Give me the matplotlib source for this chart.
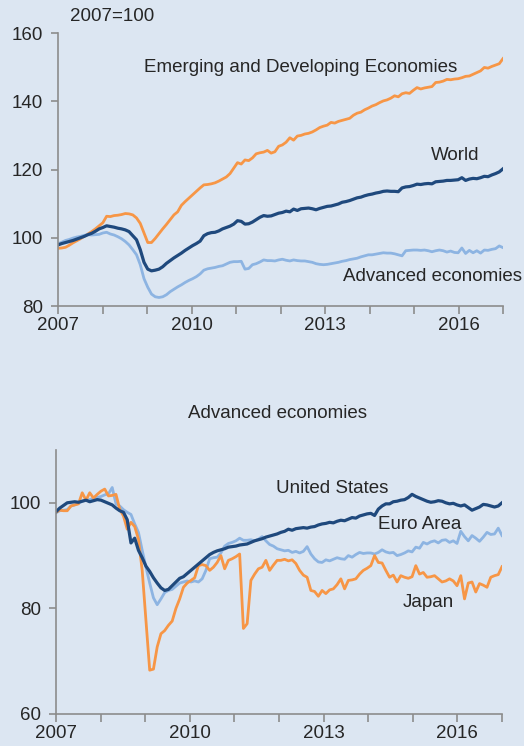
import numpy as np
import matplotlib
matplotlib.use("Agg")
import matplotlib.pyplot as plt

plt.rcParams['font.family'] = ['Liberation Sans', 'DejaVu Sans']

# ---------------- data (monthly, Jan 2007 - Dec 2016, 2007=100) ----------------
world = [
    97.9, 98.3, 98.6, 98.9, 99.2, 99.6, 100.0, 100.4, 100.9, 101.3, 101.9, 102.6,
    103.0, 103.5, 103.3, 103.1, 102.8, 102.6, 102.3, 101.8, 100.6, 99.4, 96.5, 92.8,
    90.8, 90.3, 90.5, 90.8, 91.5, 92.5, 93.3, 94.1, 94.8, 95.5, 96.3, 97.0,
    97.7, 98.3, 99.0, 100.6, 101.2, 101.5, 101.6, 102.0, 102.6, 103.0, 103.4, 104.0,
    105.0, 104.8, 104.0, 104.1, 104.6, 105.3, 106.0, 106.5, 106.3, 106.4, 106.8, 107.2,
    107.4, 107.8, 107.6, 108.4, 108.0, 108.5, 108.6, 108.7, 108.5, 108.2, 108.6, 108.9,
    109.2, 109.3, 109.6, 109.9, 110.4, 110.6, 110.9, 111.3, 111.7, 111.9, 112.3, 112.6,
    112.8, 113.1, 113.3, 113.6, 113.7, 113.6, 113.6, 113.5, 114.6, 114.9, 115.0, 115.3,
    115.7, 115.6, 115.8, 115.9, 115.8, 116.4, 116.5, 116.6, 116.8, 116.8, 116.9, 117.0,
    117.6, 116.8, 117.2, 117.4, 117.3, 117.6, 118.0, 117.9, 118.4, 118.8, 119.3, 120.2,
]
emerging = [
    96.9, 97.0, 97.2, 97.8, 98.5, 99.1, 99.7, 100.4, 101.1, 101.8, 102.6, 103.5,
    104.4, 106.3, 106.2, 106.5, 106.6, 106.8, 107.1, 107.0, 106.7, 105.8, 104.2, 101.4,
    98.6, 98.6, 99.8, 101.2, 102.6, 103.9, 105.3, 106.7, 107.6, 109.5, 110.6, 111.6,
    112.6, 113.6, 114.6, 115.5, 115.6, 115.8, 116.1, 116.6, 117.2, 117.8, 118.8, 120.4,
    122.0, 121.6, 122.8, 122.6, 123.4, 124.6, 124.9, 125.1, 125.6, 124.8, 125.2, 126.8,
    127.2, 128.0, 129.3, 128.6, 129.8, 130.0, 130.4, 130.6, 131.0, 131.6, 132.3, 132.7,
    133.0, 133.8, 133.6, 134.1, 134.4, 134.7, 135.0, 135.9, 136.5, 136.8, 137.5, 138.0,
    138.6, 139.0, 139.6, 140.1, 140.4, 140.9, 141.6, 141.3, 142.2, 142.5, 142.3, 143.2,
    144.0, 143.6, 143.9, 144.1, 144.3, 145.5, 145.6, 145.9, 146.4, 146.3, 146.5, 146.6,
    146.9, 147.3, 147.4, 147.9, 148.4, 148.9, 149.9, 149.7, 150.2, 150.6, 151.0, 152.5,
]
advanced = [
    98.2, 98.7, 99.2, 99.5, 99.9, 100.2, 100.4, 100.7, 100.9, 100.8, 100.9, 101.0,
    101.4, 101.6, 101.1, 100.8, 100.3, 99.7, 98.9, 97.9, 96.5, 95.0, 92.1, 88.0,
    85.5, 83.5, 82.7, 82.5, 82.7, 83.3, 84.2, 84.9, 85.6, 86.2, 86.9, 87.5,
    88.0, 88.6, 89.4, 90.5, 90.9, 91.1, 91.3, 91.6, 91.8, 92.3, 92.8, 93.0,
    93.0, 93.1, 90.8, 91.0, 92.1, 92.4, 92.9, 93.5, 93.3, 93.3, 93.2, 93.5,
    93.7, 93.4, 93.2, 93.5, 93.3, 93.2, 93.2, 93.0, 92.8, 92.4, 92.2, 92.1,
    92.2, 92.4, 92.6, 92.8, 93.1, 93.3, 93.6, 93.8, 94.0, 94.4, 94.7, 95.0,
    95.0, 95.2, 95.4, 95.6, 95.5, 95.5, 95.3, 95.0, 94.7, 96.2, 96.3, 96.4,
    96.4, 96.3, 96.4, 96.2, 95.9, 96.2, 96.4, 96.2, 95.8, 96.1, 95.7, 95.6,
    97.0, 95.4, 96.3, 95.6, 96.2, 95.5, 96.4, 96.3, 96.6, 96.8, 97.6, 97.1,
]
united_states = [
    98.3, 99.0, 99.5, 100.0, 100.1, 100.2, 100.1, 100.3, 100.5, 100.2, 100.4, 100.6,
    100.5, 100.2, 99.9, 99.6, 99.0, 98.5, 98.2, 96.8, 92.4, 93.3, 91.0, 89.6,
    88.0, 87.0, 85.8, 84.8, 83.9, 83.4, 83.6, 84.3, 85.0, 85.7, 86.0, 86.6,
    87.2, 87.8, 88.4, 89.0, 89.6, 90.2, 90.6, 90.9, 91.1, 91.3, 91.6, 91.7,
    91.8, 92.0, 92.1, 92.2, 92.5, 92.8, 93.0, 93.2, 93.5, 93.7, 93.9, 94.1,
    94.4, 94.6, 95.0, 94.8, 95.1, 95.2, 95.3, 95.2, 95.4, 95.5, 95.8, 96.0,
    96.1, 96.3, 96.2, 96.5, 96.7, 96.6, 96.9, 97.2, 97.1, 97.5, 97.7, 97.9,
    98.0, 97.6, 98.8, 99.4, 99.8, 99.8, 100.2, 100.3, 100.5, 100.6, 101.0, 101.6,
    101.2, 100.9, 100.6, 100.3, 100.1, 100.2, 100.4, 100.3, 100.0, 99.8, 99.9, 99.6,
    99.4, 99.6, 99.1, 98.6, 98.9, 99.2, 99.7, 99.6, 99.4, 99.2, 99.4, 100.0,
]
euro_area = [
    98.1, 98.5, 98.6, 98.7, 99.4, 99.6, 99.9, 100.3, 100.5, 100.6, 100.9, 101.0,
    101.2, 101.5, 101.7, 102.9, 99.8, 99.4, 98.7, 98.2, 97.8, 96.0, 94.4, 91.0,
    87.8, 84.8, 82.0, 80.7, 81.8, 83.0, 83.4, 83.6, 84.2, 84.8, 85.0, 85.2,
    85.0, 85.2, 85.0, 85.6, 87.2, 89.4, 89.6, 89.7, 90.5, 91.8, 92.3, 92.5,
    92.8, 93.3, 92.9, 92.9, 93.0, 92.8, 93.1, 93.6, 92.8, 92.1, 91.8, 91.3,
    91.1, 90.9, 91.0, 90.6, 90.8, 90.5, 90.8, 91.7, 90.3, 89.4, 88.8, 88.7,
    89.2, 89.0, 89.3, 89.6, 89.4, 89.3, 90.0, 89.7, 90.2, 90.6, 90.4, 90.5,
    90.5, 90.3, 90.6, 91.1, 90.7, 90.5, 90.6, 90.0, 90.2, 90.5, 90.9, 90.7,
    91.6, 91.4, 92.5, 92.2, 92.6, 92.8, 92.4, 92.9, 93.0, 92.5, 92.8, 92.3,
    94.6, 93.6, 92.8, 93.8, 93.3, 92.7, 93.5, 94.4, 94.0, 94.1, 95.2, 93.8,
]
japan = [
    98.2, 98.6, 98.5, 98.5, 99.4, 99.6, 99.8, 101.9, 100.5, 101.9, 100.9, 101.6,
    102.2, 102.6, 101.3, 101.4, 101.6, 98.8, 97.5, 95.0, 96.3, 95.5, 93.1, 87.2,
    77.7, 68.3, 68.5, 72.7, 75.2, 75.8, 76.8, 77.6, 80.0, 81.8, 84.0, 84.8,
    85.3, 85.8, 88.1, 88.3, 88.1, 87.2, 87.8, 88.7, 90.0, 87.5, 89.1, 89.4,
    89.8, 90.3, 76.2, 77.1, 85.3, 86.5, 87.5, 87.8, 89.1, 87.2, 88.2, 89.1,
    89.1, 89.3, 89.0, 89.2, 88.5, 87.2, 86.3, 85.9, 83.4, 83.2, 82.3, 83.4,
    82.8, 83.5, 83.7, 84.5, 85.6, 83.7, 85.3, 85.4, 85.6, 86.5, 87.2, 87.6,
    88.1, 90.0, 88.7, 88.6, 87.2, 85.9, 86.3, 85.0, 86.2, 85.9, 85.7, 86.0,
    88.1, 86.5, 86.8, 85.9, 86.0, 86.2, 85.6, 85.0, 85.2, 85.6, 85.2, 84.3,
    86.2, 81.8, 84.8, 85.0, 83.1, 84.7, 84.4, 84.0, 85.9, 86.2, 86.4, 87.9,
]
tick_labels = ["2007", "", "", "2010", "", "", "2013", "", "", "2016", ""]

# ---------------- style ----------------
BG = "#dce6f2"
ORANGE = "#f79646"
DARK = "#1f497d"
LIGHT = "#8db4e2"
AXC = "#8c8c8c"
TXT = "#262626"
FS = 13.5

t = 2007 + np.arange(len(world)) / 12.0
x0, x1 = t[0], t[-1]
xticks = np.linspace(x0, x1, 11)

fig = plt.figure(figsize=(5.24, 7.46), dpi=100, facecolor=BG)


def style(ax, yticks, ylim):
    ax.set_facecolor(BG)
    for s in ("top", "right"):
        ax.spines[s].set_visible(False)
    for s in ("left", "bottom"):
        ax.spines[s].set_color(AXC)
        ax.spines[s].set_linewidth(1.2)
    ax.set_xlim(x0, x1)
    ax.set_ylim(*ylim)
    ax.set_yticks(yticks)
    ax.set_xticks(xticks)
    ax.set_xticklabels(tick_labels)
    ax.tick_params(axis="both", colors=AXC, labelcolor=TXT, labelsize=FS,
                   direction="out", length=5, width=1.2)
    ax.tick_params(axis="x", length=6, pad=2)
    ax.tick_params(axis="y", pad=6)


# top panel
ax1 = fig.add_axes([58 / 524, 1 - 306 / 746, 445 / 524, 273 / 746])
style(ax1, [80, 100, 120, 140, 160], (80, 160))
lw = 2.0
ax1.plot(t, emerging, color=ORANGE, lw=lw, solid_joinstyle="round")
ax1.plot(t, advanced, color=LIGHT, lw=lw, solid_joinstyle="round")
ax1.plot(t, world, color=DARK, lw=lw + 0.3, solid_joinstyle="round")
ax1.text(2007.27, 164.7, "2007=100", fontsize=FS, color=TXT, ha="left", va="center", clip_on=False)
ax1.text(2008.91, 150.0, "Emerging and Developing Economies", fontsize=FS, color=TXT, ha="left", va="center")
ax1.text(2015.31, 124.1, "World", fontsize=FS, color=TXT, ha="left", va="center")
ax1.text(2013.36, 88.6, "Advanced economies", fontsize=FS, color=TXT, ha="left", va="center", clip_on=False)

# bottom panel
ax2 = fig.add_axes([56 / 524, 1 - 714 / 746, 446 / 524, 264 / 746])
style(ax2, [60, 80, 100], (60, 110))
ax2.plot(t, euro_area, color=LIGHT, lw=lw, solid_joinstyle="round")
ax2.plot(t, japan, color=ORANGE, lw=lw, solid_joinstyle="round")
ax2.plot(t, united_states, color=DARK, lw=lw + 0.3, solid_joinstyle="round")
ax2.text(0.496, 1 + 36 / 264, "Advanced economies", transform=ax2.transAxes, fontsize=FS,
         color=TXT, ha="center", va="center")
ax2.text(2011.89, 102.8, "United States", fontsize=FS, color=TXT, ha="left", va="center")
ax2.text(2014.15, 95.85, "Euro Area", fontsize=FS, color=TXT, ha="left", va="center")
ax2.text(2014.71, 81.1, "Japan", fontsize=FS, color=TXT, ha="left", va="center")

fig.savefig("out.png", dpi=100, facecolor=BG)
